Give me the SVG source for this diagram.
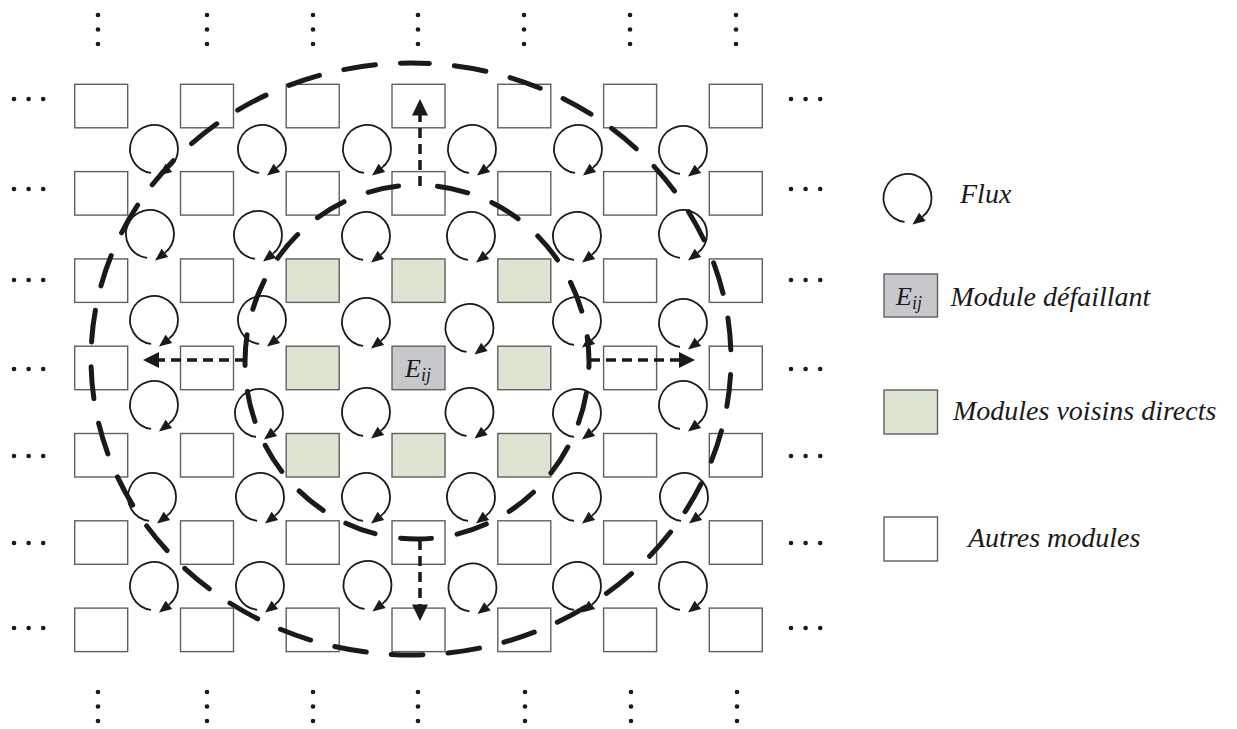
<svg xmlns="http://www.w3.org/2000/svg" xmlns:xlink="http://www.w3.org/1999/xlink" width="1237" height="729" viewBox="0 0 1237 729">
<style>
.box{fill:#ffffff;stroke:#5f5f5f;stroke-width:1.4}
.nb{fill:#dde4d2;stroke:#5f5f5f;stroke-width:1.4}
.fail{fill:#c7c8cb;stroke:#5f5f5f;stroke-width:1.4}
.arc{fill:none;stroke:#1a1a1a;stroke-width:1.8}
.ah{fill:#1a1a1a}
.dot{fill:#1a1a1a}
.zone{fill:none;stroke:#1a1a1a;stroke-width:5;stroke-linecap:round}
.conn{fill:none;stroke:#1a1a1a;stroke-width:3.5;stroke-dasharray:10 6}
.lbl{font-family:"Liberation Serif",serif;font-style:italic;fill:#1a1a1a}
</style>
<defs>
<g id="flux">
<path class="arc" d="M-2.92,23.82 A24,24 0 1 1 14.78,18.91"/>
<polygon class="ah" points="5,26.6 18.2,22.9 11.6,14.8"/>
</g>
<g id="vdots"><circle class="dot" cx="0" cy="0" r="2.3"/><circle class="dot" cx="0" cy="14.5" r="2.3"/><circle class="dot" cx="0" cy="29" r="2.3"/></g>
<g id="hdots"><circle class="dot" cx="0" cy="0" r="2.3"/><circle class="dot" cx="14.6" cy="0" r="2.3"/><circle class="dot" cx="29.2" cy="0" r="2.3"/></g>
</defs>
<rect width="1237" height="729" fill="#ffffff"/>

<g id="ellipsis">
<use href="#vdots" x="98" y="15"/><use href="#vdots" x="207" y="15"/><use href="#vdots" x="313" y="15"/><use href="#vdots" x="418" y="15"/><use href="#vdots" x="524" y="15"/><use href="#vdots" x="630" y="15"/><use href="#vdots" x="736" y="15"/>
<use href="#vdots" x="98" y="692"/><use href="#vdots" x="207" y="692"/><use href="#vdots" x="313" y="692"/><use href="#vdots" x="418" y="692"/><use href="#vdots" x="525" y="692"/><use href="#vdots" x="631" y="692"/><use href="#vdots" x="737" y="692"/>
<use href="#hdots" x="14" y="99"/><use href="#hdots" x="14" y="189"/><use href="#hdots" x="14" y="280"/><use href="#hdots" x="14" y="369"/><use href="#hdots" x="14" y="456"/><use href="#hdots" x="14" y="543"/><use href="#hdots" x="14" y="628"/>
<use href="#hdots" x="791" y="99"/><use href="#hdots" x="791" y="189"/><use href="#hdots" x="791" y="280"/><use href="#hdots" x="791" y="369"/><use href="#hdots" x="791" y="456"/><use href="#hdots" x="791" y="543"/><use href="#hdots" x="791" y="628"/>
</g>

<g id="modules">
<g id="m11"><rect class="box" x="74.7" y="84.3" width="53" height="43.5"/></g>
<g id="m12"><rect class="box" x="180.5" y="84.3" width="53" height="43.5"/></g>
<g id="m13"><rect class="box" x="286.2" y="84.3" width="53" height="43.5"/></g>
<g id="m14"><rect class="box" x="392" y="84.3" width="53" height="43.5"/></g>
<g id="m15"><rect class="box" x="497.8" y="84.3" width="53" height="43.5"/></g>
<g id="m16"><rect class="box" x="603.6" y="84.3" width="53" height="43.5"/></g>
<g id="m17"><rect class="box" x="709.3" y="84.3" width="53" height="43.5"/></g>

<g id="m21"><rect class="box" x="74.7" y="171.6" width="53" height="43.5"/></g>
<g id="m22"><rect class="box" x="180.5" y="171.6" width="53" height="43.5"/></g>
<g id="m23"><rect class="box" x="286.2" y="171.6" width="53" height="43.5"/></g>
<g id="m24"><rect class="box" x="392" y="171.6" width="53" height="43.5"/></g>
<g id="m25"><rect class="box" x="497.8" y="171.6" width="53" height="43.5"/></g>
<g id="m26"><rect class="box" x="603.6" y="171.6" width="53" height="43.5"/></g>
<g id="m27"><rect class="box" x="709.3" y="171.6" width="53" height="43.5"/></g>

<g id="m31"><rect class="box" x="74.7" y="258.9" width="53" height="43.5"/></g>
<g id="m32"><rect class="box" x="180.5" y="258.9" width="53" height="43.5"/></g>
<g id="m33"><rect class="nb" x="286.2" y="258.9" width="53" height="43.5"/></g>
<g id="m34"><rect class="nb" x="392" y="258.9" width="53" height="43.5"/></g>
<g id="m35"><rect class="nb" x="497.8" y="258.9" width="53" height="43.5"/></g>
<g id="m36"><rect class="box" x="603.6" y="258.9" width="53" height="43.5"/></g>
<g id="m37"><rect class="box" x="709.3" y="258.9" width="53" height="43.5"/></g>

<g id="m41"><rect class="box" x="74.7" y="346.2" width="53" height="43.5"/></g>
<g id="m42"><rect class="box" x="180.5" y="346.2" width="53" height="43.5"/></g>
<g id="m43"><rect class="nb" x="286.2" y="346.2" width="53" height="43.5"/></g>
<g id="m44"><rect class="fail" x="392" y="346.2" width="53" height="43.5"/><text class="lbl" x="405" y="377" font-size="26">E<tspan font-size="18" dy="4">ij</tspan></text></g>
<g id="m45"><rect class="nb" x="497.8" y="346.2" width="53" height="43.5"/></g>
<g id="m46"><rect class="box" x="603.6" y="346.2" width="53" height="43.5"/></g>
<g id="m47"><rect class="box" x="709.3" y="346.2" width="53" height="43.5"/></g>

<g id="m51"><rect class="box" x="74.7" y="433.5" width="53" height="43.5"/></g>
<g id="m52"><rect class="box" x="180.5" y="433.5" width="53" height="43.5"/></g>
<g id="m53"><rect class="nb" x="286.2" y="433.5" width="53" height="43.5"/></g>
<g id="m54"><rect class="nb" x="392" y="433.5" width="53" height="43.5"/></g>
<g id="m55"><rect class="nb" x="497.8" y="433.5" width="53" height="43.5"/></g>
<g id="m56"><rect class="box" x="603.6" y="433.5" width="53" height="43.5"/></g>
<g id="m57"><rect class="box" x="709.3" y="433.5" width="53" height="43.5"/></g>

<g id="m61"><rect class="box" x="74.7" y="520.8" width="53" height="43.5"/></g>
<g id="m62"><rect class="box" x="180.5" y="520.8" width="53" height="43.5"/></g>
<g id="m63"><rect class="box" x="286.2" y="520.8" width="53" height="43.5"/></g>
<g id="m64"><rect class="box" x="392" y="520.8" width="53" height="43.5"/></g>
<g id="m65"><rect class="box" x="497.8" y="520.8" width="53" height="43.5"/></g>
<g id="m66"><rect class="box" x="603.6" y="520.8" width="53" height="43.5"/></g>
<g id="m67"><rect class="box" x="709.3" y="520.8" width="53" height="43.5"/></g>

<g id="m71"><rect class="box" x="74.7" y="608.1" width="53" height="43.5"/></g>
<g id="m72"><rect class="box" x="180.5" y="608.1" width="53" height="43.5"/></g>
<g id="m73"><rect class="box" x="286.2" y="608.1" width="53" height="43.5"/></g>
<g id="m74"><rect class="box" x="392" y="608.1" width="53" height="43.5"/></g>
<g id="m75"><rect class="box" x="497.8" y="608.1" width="53" height="43.5"/></g>
<g id="m76"><rect class="box" x="603.6" y="608.1" width="53" height="43.5"/></g>
<g id="m77"><rect class="box" x="709.3" y="608.1" width="53" height="43.5"/></g>
</g>

<g id="fluxes">
<g id="f11"><use href="#flux" x="154" y="149"/></g>
<g id="f12"><use href="#flux" x="262" y="149"/></g>
<g id="f13"><use href="#flux" x="367" y="149"/></g>
<g id="f14"><use href="#flux" x="472" y="149"/></g>
<g id="f15"><use href="#flux" x="578" y="149"/></g>
<g id="f16"><use href="#flux" x="683" y="150"/></g>

<g id="f21"><use href="#flux" x="150" y="234"/></g>
<g id="f22"><use href="#flux" x="258" y="235"/></g>
<g id="f23"><use href="#flux" x="366" y="236"/></g>
<g id="f24"><use href="#flux" x="471" y="236"/></g>
<g id="f25"><use href="#flux" x="577" y="236"/></g>
<g id="f26"><use href="#flux" x="683" y="234"/></g>

<g id="f31"><use href="#flux" x="154" y="320"/></g>
<g id="f32"><use href="#flux" x="262" y="320"/></g>
<g id="f33"><use href="#flux" x="366" y="322"/></g>
<g id="f34"><use href="#flux" x="469.5" y="328"/></g>
<g id="f35"><use href="#flux" x="577" y="321"/></g>
<g id="f36"><use href="#flux" x="683" y="323"/></g>

<g id="f41"><use href="#flux" x="154" y="405"/></g>
<g id="f42"><use href="#flux" x="259" y="413"/></g>
<g id="f43"><use href="#flux" x="366" y="412"/></g>
<g id="f44"><use href="#flux" x="469.5" y="412"/></g>
<g id="f45"><use href="#flux" x="577" y="413"/></g>
<g id="f46"><use href="#flux" x="683" y="405"/></g>

<g id="f51"><use href="#flux" x="152" y="497"/></g>
<g id="f52"><use href="#flux" x="260" y="497"/></g>
<g id="f53"><use href="#flux" x="366" y="497"/></g>
<g id="f54"><use href="#flux" x="471" y="497"/></g>
<g id="f55"><use href="#flux" x="577" y="497"/></g>
<g id="f56"><use href="#flux" x="684" y="497"/></g>

<g id="f61"><use href="#flux" x="154" y="586"/></g>
<g id="f62"><use href="#flux" x="260" y="586"/></g>
<g id="f63"><use href="#flux" x="367.5" y="585"/></g>
<g id="f64"><use href="#flux" x="472.5" y="587.5"/></g>
<g id="f65"><use href="#flux" x="577" y="586"/></g>
<g id="f66"><use href="#flux" x="683" y="586"/></g>
</g>

<g id="zones">
<path id="zone-outer" class="zone" stroke-dasharray="32 25" stroke-dashoffset="13.5" d="M411,63 A320,296 0 0 1 411,655 A320,296 0 0 1 411,63"/>
<path id="zone-inner" class="zone" stroke-dasharray="31 26" stroke-dashoffset="36.5" d="M417,185 A172,177 0 0 1 417,539 A172,177 0 0 1 417,185"/>
</g>

<g id="connectors">
<g id="arrow-up"><line class="conn" x1="420" y1="186" x2="420" y2="114"/><polygon class="ah" points="420,99 412,115.5 428,115.5"/></g>
<g id="arrow-down"><line class="conn" x1="420" y1="540" x2="420" y2="606"/><polygon class="ah" points="420,621 412,604.5 428,604.5"/></g>
<g id="arrow-left"><line class="conn" x1="245" y1="360" x2="157" y2="360"/><polygon class="ah" points="143,360 159,352 159,368"/></g>
<g id="arrow-right"><line class="conn" x1="590" y1="360" x2="681" y2="360"/><polygon class="ah" points="695,360 679,352 679,368"/></g>
</g>

<g id="legend">
<g id="leg-flux"><use href="#flux" x="907.5" y="198"/><text class="lbl" x="960" y="203" font-size="28">Flux</text></g>
<g id="leg-fail"><rect class="fail" x="884" y="274" width="53.5" height="43"/><text class="lbl" x="896" y="305" font-size="26">E<tspan font-size="18" dy="4">ij</tspan></text><text class="lbl" x="950.5" y="305.5" font-size="28">Module défaillant</text></g>
<g id="leg-nb"><rect class="nb" x="884" y="390" width="53.5" height="44"/><text class="lbl" x="953" y="420" font-size="28">Modules voisins directs</text></g>
<g id="leg-other"><rect class="box" x="884" y="517" width="53.5" height="44"/><text class="lbl" x="968" y="546.5" font-size="28">Autres modules</text></g>
</g>
</svg>
